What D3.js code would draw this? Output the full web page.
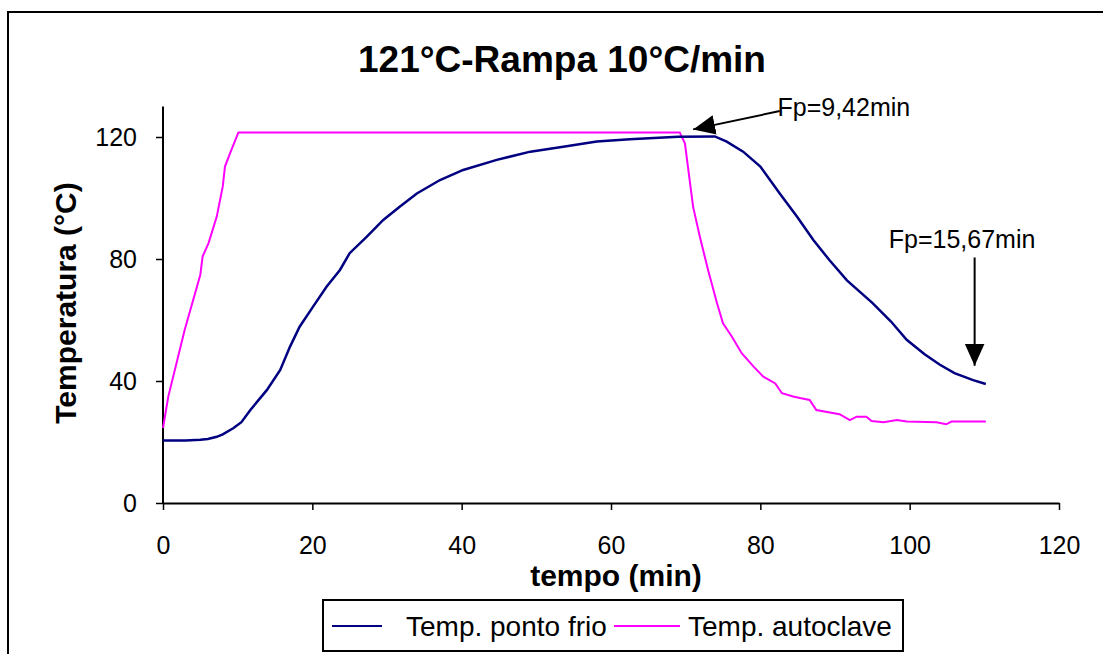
<!DOCTYPE html>
<html>
<head>
<meta charset="utf-8">
<script src="https://cdn.jsdelivr.net/npm/d3@7"></script>
<style>
  body { margin: 0; background: #fff; }
  svg text { font-family: "Liberation Sans", Arial, sans-serif; fill: #000; }
</style>
</head>
<body>
<div id="chart"></div>
<script>
// tempo (min) / temperatura (°C)
var frioTempo = [0, 3, 5, 6, 7.2, 8, 9.4, 10.5, 11.7, 13.9, 15.7, 17, 18.3, 20.1, 21.9, 23.7, 25, 27.3, 29.5, 31.7, 34, 37.1, 40.2, 44.7, 49.2, 53.6, 58.1, 62.5, 69, 73.9, 75.5, 77.7, 80, 82.6, 84.9, 87.1, 89.3, 91.6, 95, 97.5, 99.6, 102, 104, 106, 108.5, 110.2];
var frioTemp  = [20.5, 20.5, 20.7, 21, 21.7, 22.5, 24.5, 26.5, 30.5, 37, 43.6, 51.2, 57.8, 64.4, 70.9, 76.4, 81.9, 87.3, 92.8, 97.1, 101.5, 105.9, 109.2, 112.5, 115.2, 116.8, 118.5, 119.3, 120.1, 120.2, 118.5, 115.2, 110.3, 101.5, 93.9, 86.2, 79.5, 73, 65.6, 59.5, 53.5, 48.8, 45.4, 42.6, 40.3, 39];

var autoTempo = [0, 0.7, 2.9, 5, 5.3, 6.1, 7.2, 8, 8.3, 9, 10.1, 69.2, 69.9, 70.5, 71, 71.9, 73, 74.2, 75, 76.2, 77.5, 79.1, 80.4, 82, 82.9, 84.4, 85.3, 86.6, 87.5, 90.6, 92, 92.9, 94.2, 94.9, 96.5, 98.3, 99.6, 103.6, 104.9, 105.6, 110.2];
var autoTemp  = [24.6, 34.8, 56.7, 74.8, 80.8, 85.2, 93.9, 103.7, 110.3, 114.8, 121.5, 121.5, 117.9, 106.5, 97.1, 87.3, 76.4, 65.5, 58.9, 54.5, 49.1, 44.7, 41.4, 39.2, 36, 34.9, 34.4, 33.8, 30.5, 29.1, 27.2, 28.3, 28.3, 26.9, 26.5, 27.2, 26.7, 26.5, 25.8, 26.7, 26.7];

var xTicks = [0, 20, 40, 60, 80, 100, 120];
var yTicks = [0, 40, 80, 120];
var seriesNames = ["Temp. ponto frio", "Temp. autoclave"];
var seriesColors = ["#000080", "#ff00ff"];

// annotation: label, label point, arrow start, arrow tip (data units)
var notes = [
  {text: "Fp=9,42min", tx: 82.3, ty: 126.8, x1: 82.6, y1: 128.5, x2: 71, y2: 122.5},
  {text: "Fp=15,67min", tx: 97.2, ty: 83.5, x1: 108.7, y1: 80.5, x2: 108.7, y2: 45}
];

var width = 1103, height = 654;
var svg = d3.select("#chart").append("svg")
    .attr("width", width)
    .attr("height", height);

// outer chart frame (runs off the picture on right and bottom)
svg.append("rect")
    .attr("x", 8).attr("y", 12)
    .attr("width", 1200).attr("height", 700)
    .attr("fill", "none").attr("stroke", "#000").attr("stroke-width", 2);

var x = d3.scaleLinear().domain([0, 120]).range([163, 1059]);
var y = d3.scaleLinear().domain([0, 130]).range([503, 106.5]);

svg.append("defs").append("marker")
    .attr("id", "head")
    .attr("viewBox", "0 0 10 10")
    .attr("refX", 10).attr("refY", 5)
    .attr("markerWidth", 22).attr("markerHeight", 22)
    .attr("markerUnits", "userSpaceOnUse")
    .attr("orient", "auto")
  .append("path")
    .attr("d", "M0,0.5L10,5L0,9.5z")
    .attr("fill", "#000");

var xAxis = svg.append("g")
    .attr("transform", "translate(0," + y(0) + ")")
    .call(d3.axisBottom(x).tickValues(xTicks).tickSize(7).tickSizeOuter(0).tickPadding(26));

var yAxis = svg.append("g")
    .attr("transform", "translate(" + x(0) + ",0)")
    .call(d3.axisLeft(y).tickValues(yTicks).tickSize(7).tickSizeOuter(0).tickPadding(19));

[xAxis, yAxis].forEach(function(g) {
  g.select(".domain").attr("stroke", "#000").attr("stroke-width", 2);
  g.selectAll(".tick line").attr("stroke", "#000").attr("stroke-width", 1.5);
  g.selectAll(".tick text")
    .attr("font-family", "Liberation Sans, Arial, sans-serif")
    .attr("font-size", 25).attr("fill", "#000");
});
// extend the y axis up to the top of the plot
yAxis.select(".domain").attr("d", "M0," + y(0) + "V" + y(130));

var line = d3.line()
    .x(function(d) { return x(d[0]); })
    .y(function(d) { return y(d[1]); });

var frio = frioTempo.map(function(t, i) { return [t, frioTemp[i]]; });
var auto = autoTempo.map(function(t, i) { return [t, autoTemp[i]]; });

svg.append("path").datum(auto)
    .attr("d", line)
    .attr("fill", "none").attr("stroke", seriesColors[1]).attr("stroke-width", 2);

svg.append("path").datum(frio)
    .attr("d", line)
    .attr("fill", "none").attr("stroke", seriesColors[0]).attr("stroke-width", 2.5);

// titles
svg.append("text")
    .attr("x", 562).attr("y", 72)
    .attr("text-anchor", "middle")
    .attr("font-size", 37).attr("font-weight", "bold")
    .text("121°C-Rampa 10°C/min");

svg.append("text")
    .attr("x", 616).attr("y", 586)
    .attr("text-anchor", "middle")
    .attr("font-size", 30).attr("font-weight", "bold")
    .text("tempo (min)");

svg.append("text")
    .attr("transform", "translate(76,303) rotate(-90)")
    .attr("text-anchor", "middle")
    .attr("font-size", 30).attr("font-weight", "bold")
    .text("Temperatura (°C)");

// annotations
notes.forEach(function(n) {
  svg.append("line")
    .attr("x1", x(n.x1)).attr("y1", y(n.y1))
    .attr("x2", x(n.x2)).attr("y2", y(n.y2))
    .attr("stroke", "#000").attr("stroke-width", 2)
    .attr("marker-end", "url(#head)");
  svg.append("text")
    .attr("x", x(n.tx)).attr("y", y(n.ty))
    .attr("font-size", 25)
    .text(n.text);
});

// legend
var legend = svg.append("g");
legend.append("rect")
    .attr("x", 323).attr("y", 600)
    .attr("width", 580).attr("height", 51)
    .attr("fill", "#fff").attr("stroke", "#000").attr("stroke-width", 2);

var legX = [[332, 382, 406], [614, 680, 688]];
seriesNames.forEach(function(name, i) {
  legend.append("line")
    .attr("x1", legX[i][0]).attr("x2", legX[i][1])
    .attr("y1", 626).attr("y2", 626)
    .attr("stroke", seriesColors[i]).attr("stroke-width", 2);
  legend.append("text")
    .attr("x", legX[i][2]).attr("y", 636)
    .attr("font-size", 28)
    .text(name);
});
</script>
</body>
</html>
